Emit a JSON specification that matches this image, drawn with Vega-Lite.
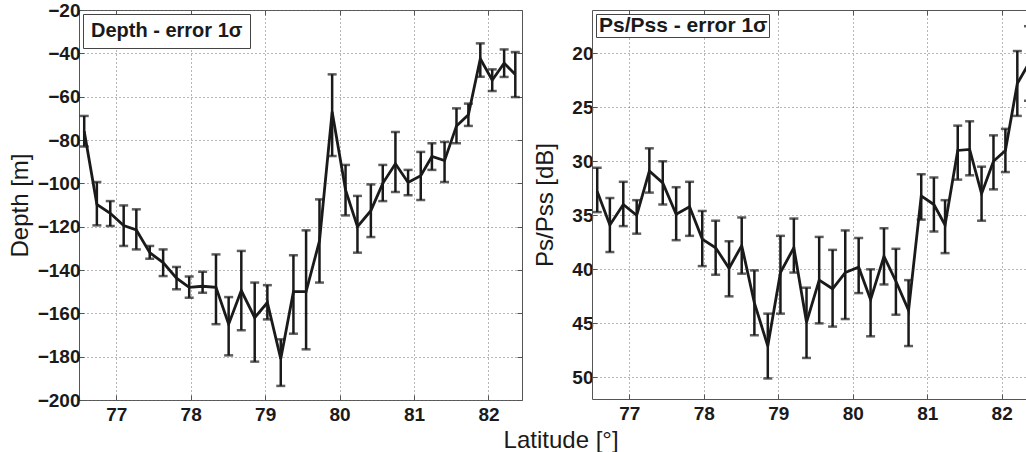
{
  "$schema": "https://vega.github.io/schema/vega-lite/v6.json",
  "background": "white",
  "padding": {"left": 7, "top": 0, "right": 0, "bottom": 0},
  "spacing": 10,
  "resolve": {"scale": {"color": "independent"}, "legend": {"color": "independent"}},
  "title": {"text": "Latitude [°]", "orient": "bottom", "anchor": "middle", "dx": 43, "offset": 4, "fontSize": 24, "fontWeight": "normal", "font": "Liberation Sans", "color": "#1a1a1a"},
  "datasets": {
    "depth": [
      {"lat": 76.57, "value": -76, "lo": -83, "hi": -68.9},
      {"lat": 76.74, "value": -109.7, "lo": -119.4, "hi": -99.4},
      {"lat": 76.92, "value": -113.8, "lo": -119.7, "hi": -108.2},
      {"lat": 77.10, "value": -119.5, "lo": -128.9, "hi": -110.2},
      {"lat": 77.27, "value": -121.5, "lo": -130.5, "hi": -112},
      {"lat": 77.45, "value": -132, "lo": -134.8, "hi": -128.9},
      {"lat": 77.63, "value": -136.6, "lo": -142.8, "hi": -130.5},
      {"lat": 77.81, "value": -143.8, "lo": -148.9, "hi": -138.6},
      {"lat": 77.98, "value": -148, "lo": -152.8, "hi": -143},
      {"lat": 78.16, "value": -147.5, "lo": -150.5, "hi": -140.8},
      {"lat": 78.34, "value": -148, "lo": -165, "hi": -132.8},
      {"lat": 78.51, "value": -165, "lo": -179.4, "hi": -152.5},
      {"lat": 78.68, "value": -149.5, "lo": -167.8, "hi": -131.2},
      {"lat": 78.86, "value": -162, "lo": -182.3, "hi": -145.8},
      {"lat": 79.03, "value": -155, "lo": -162.8, "hi": -147},
      {"lat": 79.21, "value": -181, "lo": -193.5, "hi": -172},
      {"lat": 79.38, "value": -150, "lo": -169.4, "hi": -133.2},
      {"lat": 79.55, "value": -150, "lo": -176.6, "hi": -121.7},
      {"lat": 79.73, "value": -126.6, "lo": -145.8, "hi": -107.4},
      {"lat": 79.90, "value": -67, "lo": -87.4, "hi": -49.7},
      {"lat": 80.08, "value": -103, "lo": -114.8, "hi": -91.5},
      {"lat": 80.24, "value": -120, "lo": -132, "hi": -105.8},
      {"lat": 80.42, "value": -112.6, "lo": -124.8, "hi": -100.5},
      {"lat": 80.58, "value": -100, "lo": -108.2, "hi": -91.5},
      {"lat": 80.75, "value": -91, "lo": -104, "hi": -76.3},
      {"lat": 80.92, "value": -99.6, "lo": -105.5, "hi": -93.8},
      {"lat": 81.09, "value": -96.5, "lo": -107.7, "hi": -85.5},
      {"lat": 81.24, "value": -87.6, "lo": -93.8, "hi": -81.5},
      {"lat": 81.41, "value": -89.5, "lo": -99.4, "hi": -80.9},
      {"lat": 81.57, "value": -73.5, "lo": -81.5, "hi": -65.4},
      {"lat": 81.73, "value": -68.4, "lo": -73.5, "hi": -63.2},
      {"lat": 81.89, "value": -42.5, "lo": -50.8, "hi": -35.4},
      {"lat": 82.05, "value": -52.4, "lo": -57.4, "hi": -47.4},
      {"lat": 82.21, "value": -44.5, "lo": -50.9, "hi": -38.2},
      {"lat": 82.36, "value": -49.8, "lo": -60.2, "hi": -39.4}
    ],
    "ps": [
      {"lat": 76.57, "value": 32.8, "lo": 30.6, "hi": 34.7},
      {"lat": 76.74, "value": 35.9, "lo": 33.4, "hi": 38.4},
      {"lat": 76.92, "value": 34.0, "lo": 31.9, "hi": 36.0},
      {"lat": 77.10, "value": 35.0, "lo": 33.6, "hi": 36.7},
      {"lat": 77.27, "value": 30.9, "lo": 28.8, "hi": 32.9},
      {"lat": 77.45, "value": 32.0, "lo": 30.0, "hi": 34.0},
      {"lat": 77.63, "value": 34.9, "lo": 32.4, "hi": 37.3},
      {"lat": 77.81, "value": 34.2, "lo": 31.9, "hi": 36.9},
      {"lat": 77.98, "value": 37.2, "lo": 34.6, "hi": 39.7},
      {"lat": 78.16, "value": 38.0, "lo": 35.5, "hi": 40.5},
      {"lat": 78.34, "value": 39.9, "lo": 37.4, "hi": 42.5},
      {"lat": 78.51, "value": 37.8, "lo": 35.2, "hi": 40.4},
      {"lat": 78.68, "value": 43.1, "lo": 40.1, "hi": 46.1},
      {"lat": 78.86, "value": 47.1, "lo": 44.1, "hi": 50.1},
      {"lat": 79.03, "value": 40.3, "lo": 36.9, "hi": 44.1},
      {"lat": 79.21, "value": 38.0, "lo": 35.3, "hi": 40.3},
      {"lat": 79.38, "value": 44.9, "lo": 41.7, "hi": 48.2},
      {"lat": 79.55, "value": 41.0, "lo": 37.0, "hi": 45.0},
      {"lat": 79.73, "value": 41.8, "lo": 38.2, "hi": 45.3},
      {"lat": 79.90, "value": 40.3, "lo": 36.4, "hi": 44.6},
      {"lat": 80.08, "value": 39.8, "lo": 37.1, "hi": 42.2},
      {"lat": 80.24, "value": 42.8, "lo": 40.0, "hi": 46.2},
      {"lat": 80.42, "value": 38.8, "lo": 36.2, "hi": 41.4},
      {"lat": 80.58, "value": 41.1, "lo": 38.1, "hi": 44.2},
      {"lat": 80.75, "value": 43.8, "lo": 41.0, "hi": 47.1},
      {"lat": 80.92, "value": 33.2, "lo": 31.2, "hi": 35.4},
      {"lat": 81.09, "value": 34.0, "lo": 31.5, "hi": 36.5},
      {"lat": 81.24, "value": 35.9, "lo": 33.6, "hi": 38.5},
      {"lat": 81.41, "value": 29.0, "lo": 26.7, "hi": 31.7},
      {"lat": 81.57, "value": 28.9, "lo": 26.3, "hi": 31.3},
      {"lat": 81.73, "value": 33.0, "lo": 30.5, "hi": 35.5},
      {"lat": 81.89, "value": 30.0, "lo": 27.6, "hi": 32.6},
      {"lat": 82.05, "value": 29.0, "lo": 27.0, "hi": 31.0},
      {"lat": 82.21, "value": 22.8, "lo": 19.8, "hi": 25.8},
      {"lat": 82.36, "value": 21.0, "lo": 17.5, "hi": 24.4}
    ]
  },
  "config": {
    "font": "Liberation Sans",
    "view": {"stroke": "#555", "strokeWidth": 1},
    "axis": {
      "labelFont": "Liberation Sans", "labelFontSize": 19, "labelFontWeight": "bold", "labelColor": "#1a1a1a",
      "titleFont": "Liberation Sans", "titleFontSize": 24, "titleFontWeight": "normal", "titleColor": "#1a1a1a",
      "gridColor": "#6f6f6f", "gridDash": [1, 3], "gridWidth": 1, "gridOpacity": 1,
      "tickColor": "#555", "tickSize": -5, "tickWidth": 1, "domainColor": "#555", "domainWidth": 1
    },
    "legend": {
      "orient": "top-left", "offset": 4, "strokeColor": "#444", "fillColor": "white", "cornerRadius": 0,
      "symbolSize": 0, "symbolStrokeWidth": 0, "symbolOpacity": 0, "labelOffset": -19,
      "labelFont": "Liberation Sans", "labelFontSize": 19, "labelFontWeight": "bold", "labelColor": "#1a1a1a", "labelLimit": 400
    },
    "tick": {"orient": "horizontal"}
  },
  "hconcat": [
    {
      "width": 443, "height": 390,
      "data": {"name": "depth"},
      "layer": [
        {
          "mark": {"type": "rule", "strokeWidth": 2.5, "color": "#1a1a1a", "clip": true},
          "encoding": {
            "x": {"field": "lat", "type": "quantitative", "scale": {"domain": [76.5, 82.45], "nice": false, "zero": false},
                  "axis": {"orient": "bottom", "values": [77, 78, 79, 80, 81, 82], "title": null, "domain": false, "grid": true, "labelPadding": 10}},
            "y": {"field": "lo", "type": "quantitative", "scale": {"domain": [-200, -20], "nice": false, "zero": false},
                  "axis": {"orient": "left", "values": [-200, -180, -160, -140, -120, -100, -80, -60, -40, -20], "title": "Depth [m]", "titlePadding": 5, "domain": false, "grid": true, "labelPadding": 4}},
            "y2": {"field": "hi"}
          }
        },
        {
          "mark": {"type": "tick", "orient": "horizontal", "size": 9, "thickness": 2.5, "color": "#1a1a1a", "clip": true},
          "encoding": {
            "x": {"field": "lat", "type": "quantitative", "scale": {"domain": [76.5, 82.45], "nice": false, "zero": false}, "axis": null},
            "y": {"field": "lo", "type": "quantitative", "scale": {"domain": [-200, -20], "nice": false, "zero": false}, "axis": null}
          }
        },
        {
          "mark": {"type": "tick", "orient": "horizontal", "size": 9, "thickness": 2.5, "color": "#1a1a1a", "clip": true},
          "encoding": {
            "x": {"field": "lat", "type": "quantitative", "scale": {"domain": [76.5, 82.45], "nice": false, "zero": false}, "axis": null},
            "y": {"field": "hi", "type": "quantitative", "scale": {"domain": [-200, -20], "nice": false, "zero": false}, "axis": null}
          }
        },
        {
          "mark": {"type": "line", "strokeWidth": 2.8, "clip": true},
          "encoding": {
            "x": {"field": "lat", "type": "quantitative", "scale": {"domain": [76.5, 82.45], "nice": false, "zero": false}, "axis": null},
            "y": {"field": "value", "type": "quantitative", "scale": {"domain": [-200, -20], "nice": false, "zero": false}, "axis": null},
            "color": {"datum": "Depth - error 1σ", "scale": {"range": ["#1a1a1a"]}, "legend": {"title": null, "padding": 7, "labelFontSize": 20}}
          }
        },
        {
          "mark": {"type": "line", "opacity": 0},
          "encoding": {
            "x": {"field": "lat", "type": "quantitative", "scale": {"domain": [76.5, 82.45], "nice": false, "zero": false},
                  "axis": {"orient": "top", "values": [77, 78, 79, 80, 81, 82], "title": null, "labels": false, "domain": false, "grid": false}},
            "y": {"field": "value", "type": "quantitative", "scale": {"domain": [-200, -20], "nice": false, "zero": false},
                  "axis": {"orient": "right", "values": [-200, -180, -160, -140, -120, -100, -80, -60, -40, -20], "title": null, "labels": false, "domain": false, "grid": false}}
          }
        }
      ],
      "resolve": {"axis": {"x": "independent", "y": "independent"}}
    },
    {
      "width": 435, "height": 389,
      "view": {"stroke": null},
      "data": {"name": "ps"},
      "layer": [
        {
          "mark": {"type": "rule", "strokeWidth": 2.5, "color": "#1a1a1a", "clip": true},
          "encoding": {
            "x": {"field": "lat", "type": "quantitative", "scale": {"domain": [76.5, 82.34], "nice": false, "zero": false},
                  "axis": {"orient": "bottom", "values": [77, 78, 79, 80, 81, 82], "title": null, "domain": true, "grid": true, "labelPadding": 10}},
            "y": {"field": "lo", "type": "quantitative", "scale": {"domain": [16, 52], "reverse": true, "nice": false, "zero": false},
                  "axis": {"orient": "left", "values": [20, 25, 30, 35, 40, 45, 50], "title": "Ps/Pss [dB]", "titlePadding": 14, "domain": true, "grid": true, "labelPadding": 4}},
            "y2": {"field": "hi"}
          }
        },
        {
          "mark": {"type": "tick", "orient": "horizontal", "size": 9, "thickness": 2.5, "color": "#1a1a1a", "clip": true},
          "encoding": {
            "x": {"field": "lat", "type": "quantitative", "scale": {"domain": [76.5, 82.34], "nice": false, "zero": false}, "axis": null},
            "y": {"field": "lo", "type": "quantitative", "scale": {"domain": [16, 52], "reverse": true, "nice": false, "zero": false}, "axis": null}
          }
        },
        {
          "mark": {"type": "tick", "orient": "horizontal", "size": 9, "thickness": 2.5, "color": "#1a1a1a", "clip": true},
          "encoding": {
            "x": {"field": "lat", "type": "quantitative", "scale": {"domain": [76.5, 82.34], "nice": false, "zero": false}, "axis": null},
            "y": {"field": "hi", "type": "quantitative", "scale": {"domain": [16, 52], "reverse": true, "nice": false, "zero": false}, "axis": null}
          }
        },
        {
          "mark": {"type": "line", "strokeWidth": 2.8, "clip": true},
          "encoding": {
            "x": {"field": "lat", "type": "quantitative", "scale": {"domain": [76.5, 82.34], "nice": false, "zero": false}, "axis": null},
            "y": {"field": "value", "type": "quantitative", "scale": {"domain": [16, 52], "reverse": true, "nice": false, "zero": false}, "axis": null},
            "color": {"datum": "Ps/Pss - error 1σ", "scale": {"range": ["#1a1a1a"]}, "legend": {"title": null, "padding": 1, "labelFontSize": 21}}
          }
        },
        {
          "mark": {"type": "line", "opacity": 0},
          "encoding": {
            "x": {"field": "lat", "type": "quantitative", "scale": {"domain": [76.5, 82.34], "nice": false, "zero": false},
                  "axis": {"orient": "top", "values": [77, 78, 79, 80, 81, 82], "title": null, "labels": false, "domain": true, "grid": false}},
            "y": {"field": "value", "type": "quantitative", "scale": {"domain": [16, 52], "reverse": true, "nice": false, "zero": false}, "axis": null}
          }
        }
      ],
      "resolve": {"axis": {"x": "independent", "y": "independent"}}
    }
  ]
}
